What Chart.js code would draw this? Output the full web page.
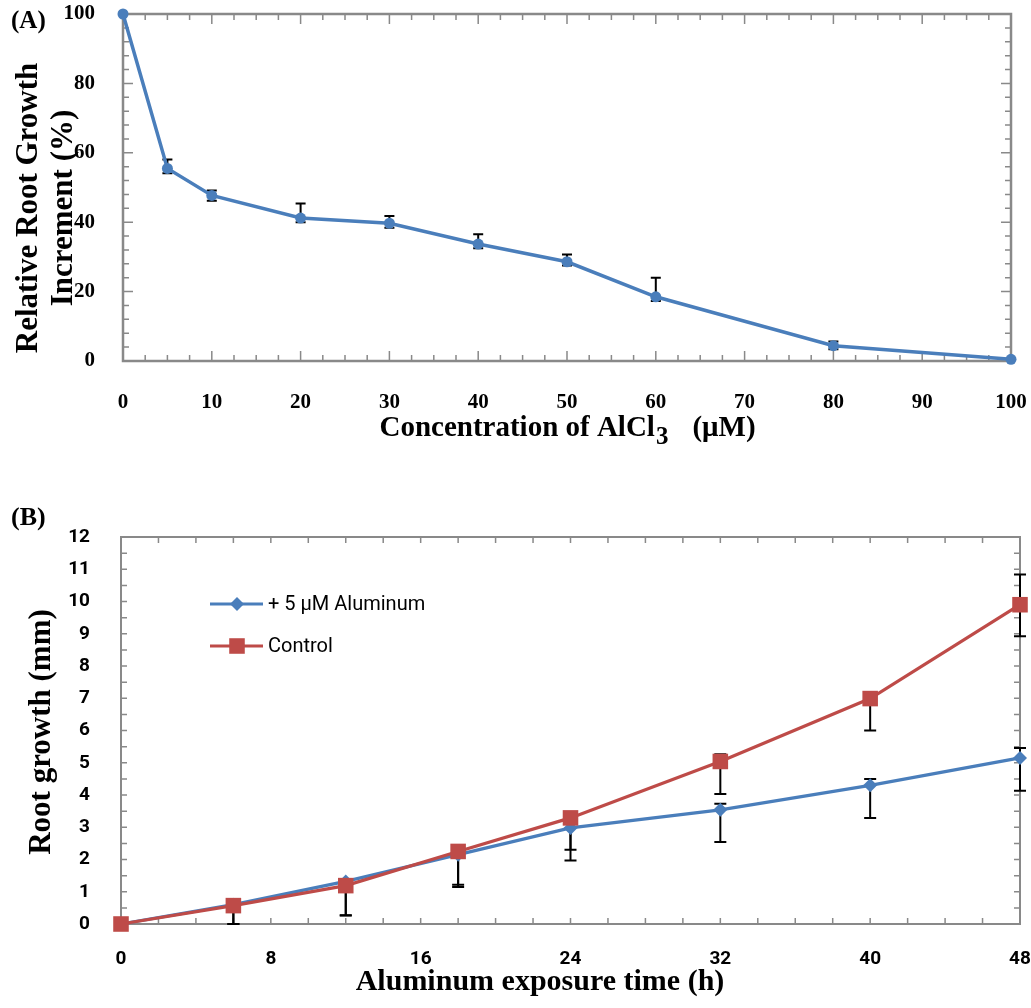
<!DOCTYPE html>
<html>
<head>
<meta charset="utf-8">
<script src="https://cdn.jsdelivr.net/npm/chart.js@4.4.1/dist/chart.umd.min.js"></script>
<style>
  body { margin: 0; background: #fff; }
  canvas { position: absolute; left: 0; }
  #chartA { top: 0; }
  #chartB { top: 490px; }
</style>
</head>
<body>
<canvas id="chartA" width="1031" height="480"></canvas>
<canvas id="chartB" width="1031" height="518"></canvas>
<script>
// ---- Panel A : relative root growth vs AlCl3 concentration
const concA = [0, 5, 10, 20, 30, 40, 50, 60, 80, 100];
const growthA = [100, 55.5, 47.7, 41.2, 39.7, 33.7, 28.6, 18.5, 4.4, 0.5];
const errUpA = [0, 2.6, 1.4, 4.2, 2.1, 2.8, 2.1, 5.5, 1.2, 0];
const errDownA = [0, 1.4, 1.5, 1.2, 1.3, 1.2, 1.1, 1.2, 1.0, 0];

// ---- Panel B : root growth over exposure time
const hoursB = [0, 6, 12, 18, 24, 32, 40, 48];
const aluminumB = [0, 0.6, 1.32, 2.15, 2.98, 3.54, 4.3, 5.15];
const aluminumUpB = [0, 0, 0, 0, 0, 0.19, 0.2, 0.31];
const aluminumDownB = [0, 0.6, 1.05, 1.0, 1.01, 1.0, 1.01, 1.02];
const controlB = [0, 0.57, 1.19, 2.25, 3.29, 5.04, 6.99, 9.9];
const controlUpB = [0, 0, 0, 0, 0, 0.22, 0, 0.94];
const controlDownB = [0, 0.57, 0.93, 1.03, 0.99, 1.01, 0.99, 0.98];
const seriesNamesB = ['+ 5 \u03bcM Aluminum', 'Control'];

const BLUE = '#4a7ebb';
const RED = '#be4b48';
const AXIS_GREY = '#898989';
const SERIF = '"Liberation Serif", "Times New Roman", serif';
const SANS = 'Roboto, "Open Sans", sans-serif';

const toPoints = (xs, ys) => xs.map((x, i) => ({ x: x, y: ys[i] }));

// keep the plot area where we put it: no extra room for overhanging labels
const fixX = h => s => { s.height = h; s.paddingLeft = 0; s.paddingRight = 0; };
const fixY = w => s => { s.width = w; s.paddingTop = 0; s.paddingBottom = 0; };

// box round the plot area, with inward tick marks on all four sides
function framePlugin(o) {
  return {
    id: 'frame',
    beforeDatasetsDraw(chart) {
      const { ctx, chartArea: a, scales } = chart;
      ctx.save();
      ctx.strokeStyle = AXIS_GREY;
      ctx.lineWidth = o.lineWidth;
      ctx.strokeRect(a.left, a.top, a.right - a.left, a.bottom - a.top);
      ctx.lineWidth = 1.5;
      ctx.beginPath();
      const marks = (sc, minor, major, fn) => {
        const n = Math.round((sc.max - sc.min) / minor);
        for (let k = 0; k <= n; k++) {
          const v = sc.min + k * minor;
          const isMajor = Math.abs(v / major - Math.round(v / major)) < 1e-6;
          fn(sc.getPixelForValue(v), isMajor ? o.majorLen : o.minorLen);
        }
      };
      marks(scales.x, o.xMinor, o.xMajor, (px, len) => {
        ctx.moveTo(px, a.bottom); ctx.lineTo(px, a.bottom - len);
        ctx.moveTo(px, a.top); ctx.lineTo(px, a.top + len);
      });
      marks(scales.y, o.yMinor, o.yMajor, (py, len) => {
        ctx.moveTo(a.left, py); ctx.lineTo(a.left + len, py);
        ctx.moveTo(a.right, py); ctx.lineTo(a.right - len, py);
      });
      ctx.stroke();
      ctx.restore();
    }
  };
}

// error bars read from the per-dataset up/down arrays
function errorBarPlugin(errs, capHalf) {
  return {
    id: 'errorBars',
    beforeDatasetsDraw(chart) {
      const { ctx, scales } = chart;
      ctx.save();
      ctx.strokeStyle = '#000';
      ctx.lineWidth = 2;
      errs.forEach((e, di) => {
        const meta = chart.getDatasetMeta(di);
        const vals = chart.data.datasets[di].data;
        meta.data.forEach((pt, j) => {
          const v = vals[j].y;
          const y0 = scales.y.getPixelForValue(v);
          ctx.beginPath();
          if (e.up[j] > 0) {
            const yt = scales.y.getPixelForValue(v + e.up[j]);
            ctx.moveTo(pt.x, y0); ctx.lineTo(pt.x, yt);
            ctx.moveTo(pt.x - capHalf, yt); ctx.lineTo(pt.x + capHalf, yt);
          }
          if (e.down[j] > 0) {
            const yb = scales.y.getPixelForValue(v - e.down[j]);
            ctx.moveTo(pt.x, y0); ctx.lineTo(pt.x, yb);
            ctx.moveTo(pt.x - capHalf, yb); ctx.lineTo(pt.x + capHalf, yb);
          }
          ctx.stroke();
        });
      });
      ctx.restore();
    }
  };
}

// ---------------- Panel A
new Chart(document.getElementById('chartA'), {
  type: 'scatter',
  data: {
    datasets: [{
      data: toPoints(concA, growthA),
      showLine: true,
      borderColor: BLUE,
      backgroundColor: BLUE,
      borderWidth: 3.5,
      pointRadius: 5.5,
      pointBorderWidth: 0,
      tension: 0,
      clip: false
    }]
  },
  options: {
    responsive: false,
    animation: false,
    layout: { padding: { left: 0, right: 20, top: 14, bottom: 0 } },
    plugins: { legend: { display: false }, tooltip: { enabled: false } },
    scales: {
      x: {
        type: 'linear', min: 0, max: 100,
        grid: { display: false }, border: { display: false },
        ticks: { stepSize: 10, color: '#000', padding: 21, font: { family: SERIF, size: 21, weight: 'bold' } },
        afterFit: fixX(119)
      },
      y: {
        type: 'linear', min: 0, max: 100,
        grid: { display: false }, border: { display: false },
        ticks: { stepSize: 20, color: '#000', padding: 20, font: { family: SERIF, size: 21, weight: 'bold' } },
        afterFit: fixY(123)
      }
    }
  },
  plugins: [
    framePlugin({ lineWidth: 2.5, xMinor: 2.5, xMajor: 10, yMinor: 4, yMajor: 20, majorLen: 10, minorLen: 6 }),
    errorBarPlugin([{ up: errUpA, down: errDownA }], 5),
    {
      id: 'textA',
      afterDraw(chart) {
        const { ctx, chartArea: a } = chart;
        ctx.save();
        ctx.fillStyle = '#000';
        ctx.font = 'bold 25px ' + SERIF;
        ctx.textBaseline = 'middle';
        ctx.textAlign = 'left';
        ctx.fillText('(A)', 11, 22);
        // y title, two lines
        ctx.save();
        ctx.translate(0, 208);
        ctx.rotate(-Math.PI / 2);
        ctx.font = 'bold 31px ' + SERIF;
        ctx.textAlign = 'center';
        ctx.textBaseline = 'alphabetic';
        ctx.fillText('Relative Root Growth', 0, 37);
        ctx.fillText('Increment (%)', 0, 72);
        ctx.restore();
        // x title with subscript
        const f = 'bold 29px ' + SERIF;
        const fs = 'bold 25px ' + SERIF;
        ctx.textBaseline = 'alphabetic';
        ctx.font = f;
        const t1 = 'Concentration of AlCl', t3 = '(\u03bcM)';
        const w1 = ctx.measureText(t1).width, w3 = ctx.measureText(t3).width;
        ctx.font = fs;
        const w2 = ctx.measureText('3').width;
        const gap = 24;
        let x = (a.left + a.right) / 2 - (w1 + w2 + gap + w3) / 2;
        ctx.font = f; ctx.fillText(t1, x, 436); x += w1 + 1;
        ctx.font = fs; ctx.fillText('3', x, 444); x += w2 + gap;
        ctx.font = f; ctx.fillText(t3, x, 436);
        ctx.restore();
      }
    }
  ]
});

// ---------------- Panel B
new Chart(document.getElementById('chartB'), {
  type: 'scatter',
  data: {
    datasets: [{
      label: seriesNamesB[0],
      data: toPoints(hoursB, aluminumB),
      showLine: true,
      borderColor: BLUE,
      backgroundColor: BLUE,
      borderWidth: 3.2,
      pointStyle: 'rectRot',
      pointRadius: 7,
      pointBorderWidth: 0,
      order: 2,
      clip: false
    }, {
      label: seriesNamesB[1],
      data: toPoints(hoursB, controlB),
      showLine: true,
      borderColor: RED,
      backgroundColor: RED,
      borderWidth: 3.2,
      pointStyle: 'rect',
      pointRadius: 11,
      pointBorderWidth: 0,
      order: 1,
      clip: false
    }]
  },
  options: {
    responsive: false,
    animation: false,
    layout: { padding: { left: 0, right: 7, top: 47, bottom: 0 } },
    plugins: { legend: { display: false }, tooltip: { enabled: false } },
    scales: {
      x: {
        type: 'linear', min: 0, max: 48,
        grid: { display: false }, border: { display: false },
        ticks: { stepSize: 8, color: '#000', padding: 16, font: { family: SANS, size: 19, weight: 'bold' } },
        afterFit: fixX(84)
      },
      y: {
        type: 'linear', min: 0, max: 12,
        grid: { display: false }, border: { display: false },
        ticks: { stepSize: 1, color: '#000', padding: 23, font: { family: SANS, size: 19, weight: 'bold' } },
        afterFit: fixY(121)
      }
    }
  },
  plugins: [
    framePlugin({ lineWidth: 2, xMinor: 2, xMajor: 8, yMinor: 0.5, yMajor: 1, majorLen: 6, minorLen: 6 }),
    errorBarPlugin([{ up: aluminumUpB, down: aluminumDownB }, { up: controlUpB, down: controlDownB }], 6),
    {
      id: 'textB',
      afterDraw(chart) {
        const { ctx } = chart;
        ctx.save();
        ctx.fillStyle = '#000';
        ctx.font = 'bold 26px ' + SERIF;
        ctx.textBaseline = 'middle';
        ctx.fillText('(B)', 11, 28);
        // legend: line + marker + label
        chart.data.datasets.forEach((ds, i) => {
          const y = 114 + i * 42;
          ctx.strokeStyle = ds.borderColor;
          ctx.lineWidth = 3.2;
          ctx.beginPath(); ctx.moveTo(210, y); ctx.lineTo(263, y); ctx.stroke();
          ctx.fillStyle = ds.backgroundColor;
          Chart.helpers.drawPoint(ctx, { pointStyle: ds.pointStyle, radius: ds.pointRadius, borderWidth: 0, rotation: 0 }, 237, y);
          ctx.fillStyle = '#000';
          ctx.font = '20px ' + SANS;
          ctx.textAlign = 'left';
          ctx.textBaseline = 'middle';
          ctx.fillText(ds.label, 268, y + 1);
        });
        // y title
        ctx.save();
        ctx.translate(0, 242);
        ctx.rotate(-Math.PI / 2);
        ctx.font = 'bold 31px ' + SERIF;
        ctx.textAlign = 'center';
        ctx.textBaseline = 'alphabetic';
        ctx.fillText('Root growth (mm)', 0, 50);
        ctx.restore();
        // x title
        ctx.font = 'bold 30px ' + SERIF;
        ctx.textAlign = 'center';
        ctx.textBaseline = 'alphabetic';
        ctx.fillText('Aluminum exposure time (h)', 540, 500);
        ctx.restore();
      }
    }
  ]
});
</script>
</body>
</html>
